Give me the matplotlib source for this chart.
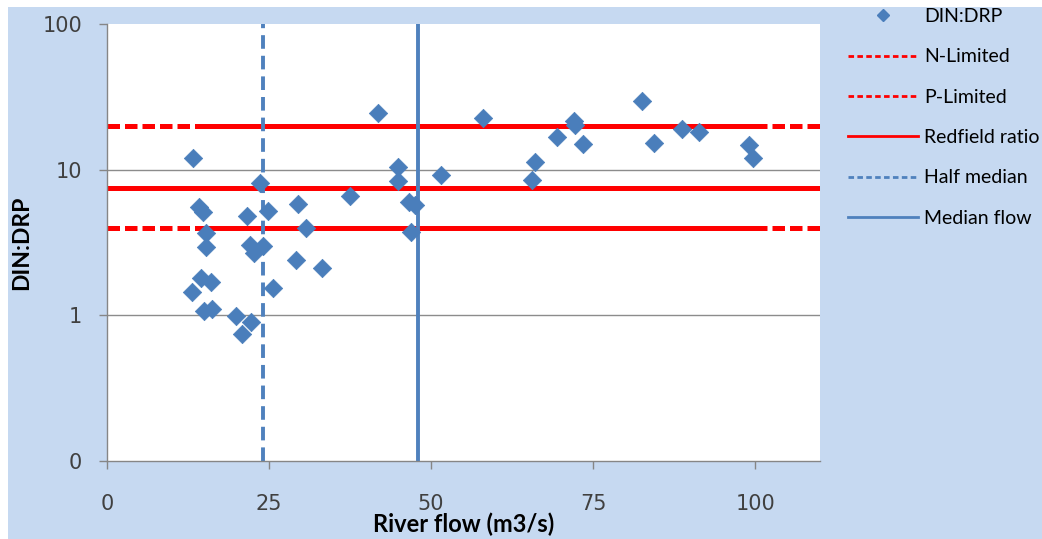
import numpy as np
import matplotlib
matplotlib.use('Agg')
import matplotlib.pyplot as plt
from matplotlib.lines import Line2D
from matplotlib.patches import Rectangle

# --- data ---
flow = [13.25, 14.13, 14.74, 15.32, 15.21, 14.54, 16.09, 13.15, 14.90, 16.18,
        19.84, 22.26, 20.87, 21.54, 23.55, 24.78, 22.11, 22.62, 24.00, 25.60,
        29.46, 30.65, 29.21, 33.23, 41.81, 58.02, 44.90, 44.90, 51.60, 37.44,
        46.60, 47.48, 46.97, 65.50, 66.00, 69.45, 72.10, 72.26, 73.40, 82.52,
        84.37, 88.74, 91.37, 99.09, 99.60]
din_drp = [12.0, 5.54, 5.12, 3.66, 2.96, 1.81, 1.69, 1.45, 1.07, 1.105,
           0.994, 0.904, 0.741, 4.83, 8.06, 5.2, 3.04, 2.68, 2.99, 1.53,
           5.78, 4.0, 2.40, 2.12, 24.6, 22.5, 10.4, 8.40, 9.19, 6.59,
           6.03, 5.72, 3.75, 8.49, 11.3, 16.7, 21.6, 20.4, 15.0, 29.7,
           15.3, 18.9, 18.0, 14.8, 12.0]

n_limited = 20
p_limited = 4
redfield = 7.5
half_median = 24
median_flow = 48
overlap_range = [13.5, 101]   # where the second dashed series overlaps

x_ticks = [0, 25, 50, 75, 100]
y_ticks = [0.1, 1, 10, 100]
y_tick_labels = ['0', '1', '10', '100']

red = '#FF0000'
blue_line = '#4F81BD'
blue_pt = '#4A7EBB'
bg = '#C6D9F1'

fig = plt.figure(figsize=(10.42, 5.39), dpi=100, facecolor='white')
# blue chart area, leaving a thin white margin at top and left
fig.patches.append(Rectangle((8 / 1042, 0), 1, 1 - 7 / 539, transform=fig.transFigure,
                             facecolor=bg, edgecolor='none', zorder=-10))

ax = fig.add_axes([107 / 1042, 1 - 461 / 539, (820 - 107) / 1042, (461 - 24) / 539])
ax.set_facecolor('white')
ax.set_yscale('log')
ax.set_xlim(0, 110)
ax.set_ylim(0.1, 100)

# grid
for g in [1, 10]:
    ax.axhline(g, color='#8C8C8C', lw=1, zorder=1)

dash_r = (2.5, 1.0)
lw_r = 3.6
# N-limited and P-limited: dashed across the plot, a second dashed series overlapping
for yv in [n_limited, p_limited]:
    ax.plot([0, 110], [yv, yv], color=red, lw=lw_r, ls=(0, dash_r), zorder=2,
            dash_capstyle='butt')
    ax.plot(overlap_range, [yv, yv], color=red, lw=lw_r, ls=(1.75, dash_r), zorder=2,
            dash_capstyle='butt')
ax.plot([0, 110], [redfield, redfield], color=red, lw=lw_r, zorder=2)

ax.axvline(half_median, color=blue_line, lw=2.8, ls=(0, (3.5, 1.8)), zorder=2)
ax.axvline(median_flow, color=blue_line, lw=2.8, zorder=2)

ax.scatter(flow, din_drp, marker='D', s=88, color=blue_pt, edgecolors=blue_pt,
           linewidths=0.5, zorder=4)

# axes styling
for side in ['top', 'right']:
    ax.spines[side].set_visible(False)
for side in ['left', 'bottom']:
    ax.spines[side].set_color('#868686')
    ax.spines[side].set_linewidth(1)

ax.set_xticks(x_ticks)
ax.set_yticks(y_ticks)
ax.set_yticklabels(y_tick_labels)
ax.yaxis.set_minor_locator(matplotlib.ticker.NullLocator())
ax.tick_params(axis='both', direction='out', length=6, width=1, color='#868686',
               labelsize=15, labelcolor='#404040')
ax.tick_params(axis='x', pad=18)
ax.tick_params(axis='y', pad=12)

ax.set_xlabel('River flow (m3/s)', fontsize=17, fontweight='bold', family='Lato',
              labelpad=-1)
ax.set_ylabel('DIN:DRP', fontsize=16.5, fontweight='bold', family='Lato', labelpad=7)

handles = [
    Line2D([], [], marker='D', ls='none', color=blue_pt, markersize=6.5),
    Line2D([], [], color=red, lw=2, ls=(0, (2, 1.2))),
    Line2D([], [], color=red, lw=2, ls=(0, (2, 1.2))),
    Line2D([], [], color=red, lw=2),
    Line2D([], [], color=blue_line, lw=2, ls=(0, (2, 1.2))),
    Line2D([], [], color=blue_line, lw=2),
]
labels = ['DIN:DRP', 'N-Limited', 'P-Limited', 'Redfield ratio', 'Half median', 'Median flow']
fig.legend(handles, labels, loc='upper left', bbox_to_anchor=(848 / 1042, 1 - 8 / 539),
           frameon=False, prop={'family': 'Lato', 'size': 14}, handlelength=3.6,
           handletextpad=0.3, labelspacing=1.2, borderpad=0, borderaxespad=0)

fig.savefig('out.png', dpi=100, facecolor=fig.get_facecolor())
